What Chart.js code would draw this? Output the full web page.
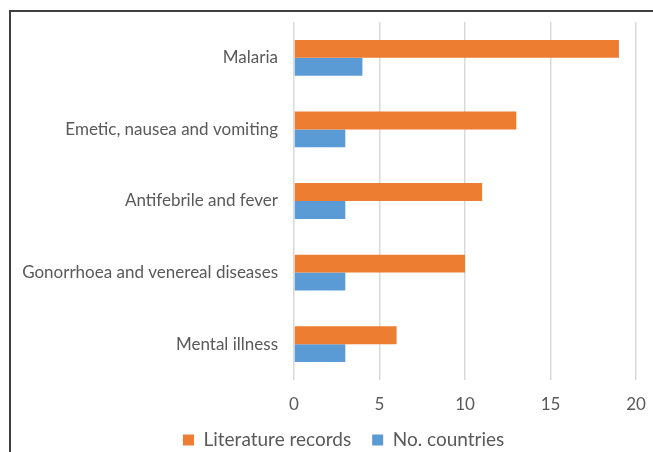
<!DOCTYPE html>
<html>
<head>
<meta charset="utf-8">
<script src="https://cdn.jsdelivr.net/npm/chart.js@4"></script>
<style>
  html, body { margin: 0; padding: 0; background: #fff; }
  #wrap { position: relative; width: 653px; height: 452px; }
  #frame { position: absolute; left: 9px; top: 10px; right: -5px; bottom: -5px;
           border-left: 2px solid #404040; border-top: 2px solid #404040; }
</style>
</head>
<body>
<div id="wrap">
  <div id="frame"></div>
  <canvas id="myChart" width="653" height="452"></canvas>
</div>
<script>
var categories = ["Malaria", "Emetic, nausea and vomiting", "Antifebrile and fever",
  "Gonorrhoea and venereal diseases", "Mental illness"];
var literatureRecords = [19, 13, 11, 10, 6];
var noCountries = [4, 3, 3, 3, 3];
var xTicks = [0, 5, 10, 15, 20];

var fontName = "Lato";
var textColor = "#595959";

// moves the legend so its row sits where excel put it
var legendShift = {
  id: "legendShift",
  afterUpdate: function (chart) {
    var lg = chart.legend;
    if (!lg || !lg.legendHitBoxes || !lg.legendHitBoxes.length) return;
    var hb = lg.legendHitBoxes[0];
    var dy = 440 - (hb.top + hb.height / 2);
    var dx = 183 - hb.left;
    lg.top += dy;
    lg.bottom += dy;
    lg.left += dx;
    lg.right += dx;
    lg.adjustHitBoxes();
  },
};

new Chart("myChart", {
  type: "bar",
  data: {
    labels: categories,
    datasets: [
      {
        label: "Literature records",
        data: literatureRecords,
        backgroundColor: "#ED7D31",
        categoryPercentage: 0.5,
        barPercentage: 1.0,
      },
      {
        label: "No. countries",
        data: noCountries,
        backgroundColor: "#5B9BD5",
        categoryPercentage: 0.5,
        barPercentage: 1.0,
      },
    ],
  },
  options: {
    indexAxis: "y",
    responsive: false,
    animation: false,
    layout: { padding: { left: 0, right: 17, top: 22, bottom: -20 } },
    scales: {
      x: {
        min: 0,
        max: 20,
        afterBuildTicks: function (axis) {
          axis.ticks = xTicks.map(function (v) { return { value: v }; });
        },
        grid: { color: "#d9d9d9", lineWidth: 1.5, drawTicks: false },
        border: { display: false },
        ticks: { color: textColor, font: { family: fontName, size: 17 }, padding: 14 },
        afterFit: function (axis) {
          axis.height = 42;
          axis.paddingLeft = 0;
          axis.paddingRight = 0;
        },
      },
      y: {
        grid: { display: false, drawTicks: false },
        border: { display: false },
        ticks: { color: textColor, font: { family: fontName, size: 17 }, padding: 16 },
        afterFit: function (axis) {
          axis.width = 294;
          axis.paddingTop = 0;
          axis.paddingBottom = 0;
        },
      },
    },
    plugins: {
      legend: {
        position: "bottom",
        labels: {
          color: textColor,
          font: { family: fontName, size: 19 },
          boxWidth: 11,
          boxHeight: 11,
          padding: 21,
        },
      },
      tooltip: { enabled: false },
    },
  },
  plugins: [legendShift],
});
</script>
</body>
</html>
